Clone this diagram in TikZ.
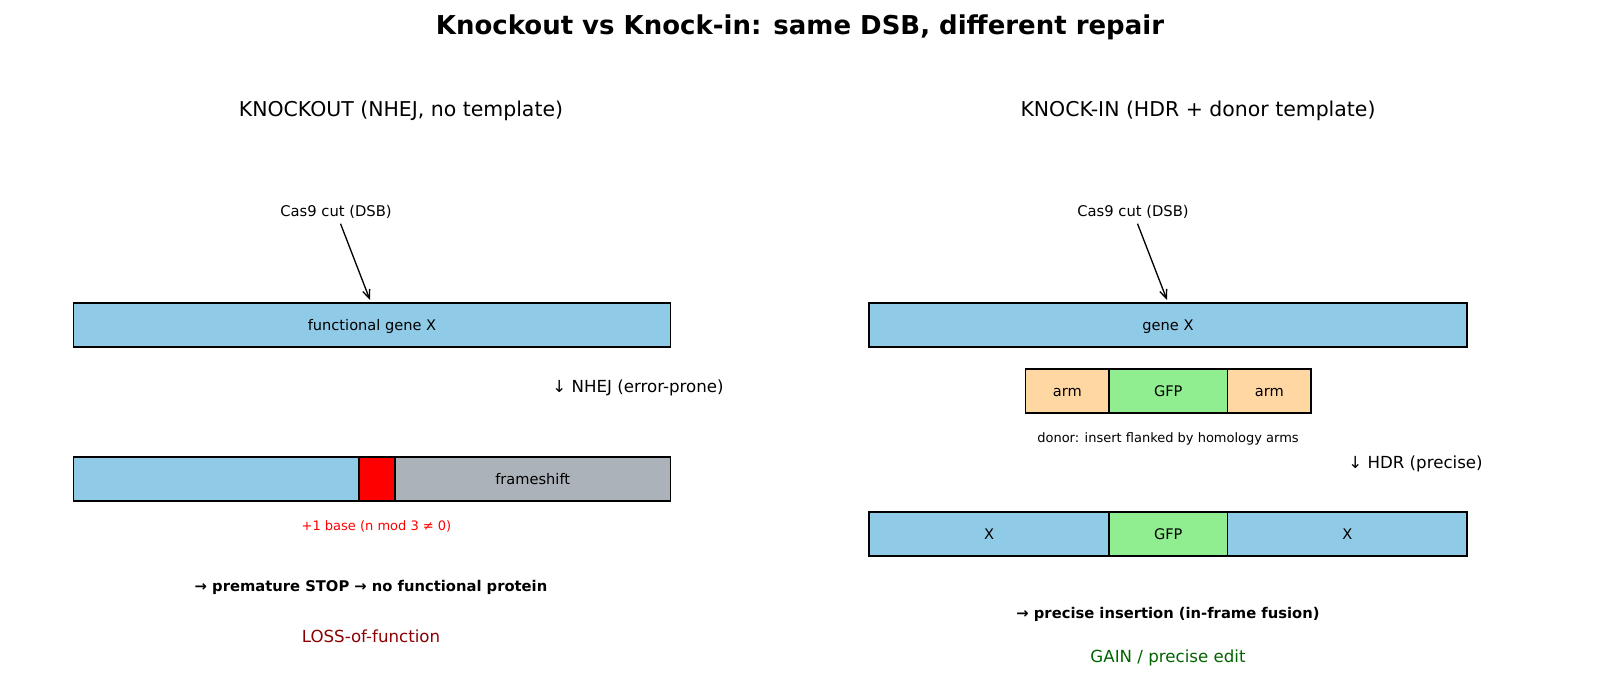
\documentclass[tikz,border=0pt]{standalone}
\usepackage{fontspec}
\setmainfont{DejaVu Sans}
\usepackage{xcolor}
\usetikzlibrary{arrows.meta, positioning}
\definecolor{geneblue}{HTML}{8FCAE6}
\definecolor{shiftgray}{HTML}{ABB2B9}
\definecolor{armorange}{HTML}{FFD7A3}
\definecolor{gfpgreen}{HTML}{90EE90}
\definecolor{lossred}{HTML}{8B0000}
\definecolor{gaingreen}{HTML}{006400}
\newcommand{\fsz}[1]{\fontsize{#1}{#1}\selectfont}

\begin{document}
\begin{tikzpicture}[
    x=0.685pt, y=-0.685pt,
    seg/.style={rectangle, draw=black, line width=1.1pt, outer sep=0pt, inner sep=0pt,
                minimum height=30.1pt, text height=9pt, text depth=1pt, font=\fsz{10}},
    panel/.style={font=\fsz{14}},
    cutlabel/.style={font=\fsz{10.1}},
    cutarrow/.style={-{Straight Barb[length=6pt, width=5pt]}, line width=0.9pt},
    steplabel/.style={font=\fsz{11.4}},
    note/.style={font=\fsz{8.9}},
    outcome/.style={font=\bfseries\fsz{10.1}},
    verdict/.style={font=\fsz{11.4}},
]
\useasboundingbox (0,0) rectangle (1600,691);

% Title
\node[font=\bfseries\fsz{17.8}] (title) at (800,27) {Knockout vs Knock-in: same DSB, different repair};

% Knockout panel
\node[panel] (koHead) at (401,111) {KNOCKOUT (NHEJ, no template)};
\node[cutlabel] (koCut) at (336,212) {Cas9 cut (DSB)};
\node[seg, fill=geneblue, minimum width=597*0.685pt] (koGene) at (372,325) {functional gene X};
\coordinate (koHit) at (370,300);
\draw[cutarrow] (koCut) -- (koHit);

\node[steplabel] (koStep) at (638,388) {↓ NHEJ (error-prone)};

\node[seg, fill=geneblue, minimum width=285.5*0.685pt, anchor=west] (koLeft) at (73.5,479) {};
\node[seg, fill=red, minimum width=36*0.685pt, right=0pt of koLeft] (koIns) {};
\node[seg, fill=shiftgray, minimum width=275.5*0.685pt, right=0pt of koIns] (koShift) {frameshift};
\node[note, text=red] (koNote) at (376.5,526.5) {+1 base (n mod 3 ≠ 0)};

\node[outcome] (koOut) at (371,587) {→ premature STOP → no functional protein};
\node[verdict, text=lossred] (koRes) at (371,636) {LOSS-of-function};

% Knock-in panel
\node[panel] (kiHead) at (1198,111) {KNOCK-IN (HDR + donor template)};
\node[cutlabel] (kiCut) at (1133,212) {Cas9 cut (DSB)};
\node[seg, fill=geneblue, minimum width=598*0.685pt] (kiGene) at (1168,325) {gene X};
\coordinate (kiHit) at (1167,300);
\draw[cutarrow] (kiCut) -- (kiHit);

\node[seg, fill=armorange, minimum width=83.5*0.685pt, anchor=west] (armL) at (1025.5,391) {arm};
\node[seg, fill=gfpgreen, minimum width=118.5*0.685pt, right=0pt of armL] (donorGfp) {GFP};
\node[seg, fill=armorange, minimum width=83.5*0.685pt, right=0pt of donorGfp] (armR) {arm};
\node[note] (donorNote) at (1168,439) {donor: insert flanked by homology arms};

\node[steplabel] (kiStep) at (1415.5,464) {↓ HDR (precise)};

\node[seg, fill=geneblue, minimum width=240*0.685pt, anchor=west] (kiLeft) at (869,534) {X};
\node[seg, fill=gfpgreen, minimum width=118.5*0.685pt, right=0pt of kiLeft] (kiGfp) {GFP};
\node[seg, fill=geneblue, minimum width=239.5*0.685pt, right=0pt of kiGfp] (kiRight) {X};

\node[outcome] (kiOut) at (1168,614) {→ precise insertion (in-frame fusion)};
\node[verdict, text=gaingreen] (kiRes) at (1168,658) {GAIN / precise edit};

\end{tikzpicture}
\end{document}
